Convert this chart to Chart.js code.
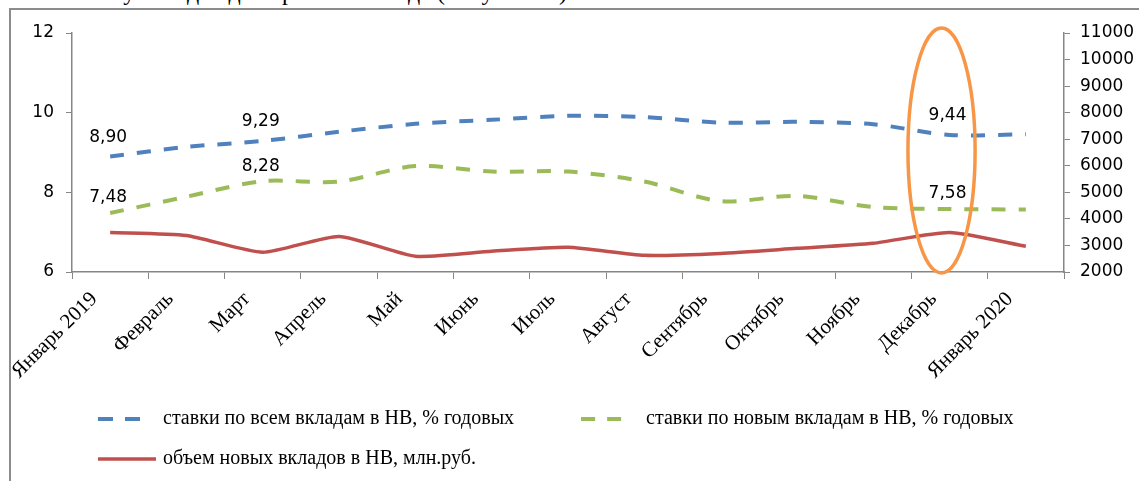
<!DOCTYPE html>
<html lang="ru">
<head>
<meta charset="utf-8">
<title>Ставки и объем вкладов в НВ</title>
<script src="https://cdn.jsdelivr.net/npm/chart.js@4/dist/chart.umd.min.js"></script>
<style>
    html, body { margin: 0; padding: 0; background: #fff; overflow: hidden; }
    body { width: 1139px; height: 481px; position: relative; }
    .doc-line {
        position: absolute; left: 112px; top: -20px;
        font: 24px "Liberation Serif", serif; line-height: 24px;
        white-space: nowrap; color: #000;
    }
    .frame {
        position: absolute; left: 9px; top: 8px;
        width: 1300px; height: 600px;
        border: 2px solid #8c8c8c; box-sizing: border-box;
    }
    #depositChart { position: absolute; left: 10px; top: 9px; }
</style>
</head>
<body>
<div class="doc-line">ку вкладов до апреля 2020 года (Рисунок 11).</div>
<div class="frame"></div>
<canvas id="depositChart" width="1129" height="472"></canvas>

<script>
// months on the x axis
const months = ["Январь 2019", "Февраль", "Март", "Апрель", "Май", "Июнь", "Июль",
    "Август", "Сентябрь", "Октябрь", "Ноябрь", "Декабрь", "Январь 2020"];

// rates, % per year (left axis)
const allDepositRates = [8.90, 9.14, 9.29, 9.52, 9.72, 9.82, 9.92, 9.89, 9.75, 9.77, 9.71, 9.44, 9.46];
const newDepositRates = [7.48, 7.89, 8.28, 8.27, 8.66, 8.52, 8.52, 8.27, 7.78, 7.91, 7.63, 7.58, 7.57];

// volume of new deposits, mln rub (right axis)
const newDepositVolume = [3490, 3375, 2745, 3340, 2595, 2780, 2930, 2630, 2700, 2890, 3080, 3490, 2970];

const seriesNames = [
    "ставки по всем вкладам в НВ, % годовых",
    "ставки по новым вкладам в НВ, % годовых",
    "объем новых вкладов в НВ, млн.руб."
];

// which months get a value label, and which one is circled
const labeledPoints = [0, 2, 11];
const circledMonth = 11;

const axisGray = "#868686";
const tickFont = { family: "'DejaVu Sans', sans-serif", size: 17 };
const monthFont = { family: "'Liberation Serif', serif", size: 21 };
const legendFont = { family: "'Liberation Serif', serif", size: 20 };

// small line pictures for the legend (two dashes for the rates)
function legendLine(color, width, dash) {
    const c = document.createElement("canvas");
    c.width = 58;
    c.height = 6;
    const g = c.getContext("2d");
    g.strokeStyle = color;
    g.lineWidth = width;
    g.setLineDash(dash);
    g.beginPath();
    g.moveTo(0, 3);
    g.lineTo(58, 3);
    g.stroke();
    return c;
}

const valueLabels = {
    id: "valueLabels",
    afterDatasetsDraw(chart) {
        const ctx = chart.ctx;
        ctx.save();
        ctx.font = "17px 'DejaVu Sans', sans-serif";
        ctx.fillStyle = "#000";
        ctx.textAlign = "center";
        ctx.textBaseline = "middle";
        [0, 1].forEach((di) => {
            const meta = chart.getDatasetMeta(di);
            const values = chart.data.datasets[di].data;
            const lift = di === 0 ? 19 : 15;
            labeledPoints.forEach((i) => {
                const pt = meta.data[i];
                const text = values[i].toFixed(2).replace(".", ",");
                ctx.fillText(text, pt.x - 2, pt.y - lift);
            });
        });
        ctx.restore();
    }
};

const monthCircle = {
    id: "monthCircle",
    afterDatasetsDraw(chart) {
        const x = chart.scales.x;
        const area = chart.chartArea;
        const step = x.getPixelForValue(1) - x.getPixelForValue(0);
        const ctx = chart.ctx;
        ctx.save();
        ctx.strokeStyle = "#F79646";
        ctx.lineWidth = 3.5;
        ctx.beginPath();
        ctx.ellipse(x.getPixelForValue(circledMonth) - 8, (area.top + area.bottom) / 2 - 2,
            step * 0.44, (area.bottom - area.top) / 2 + 3, 0, 0, Math.PI * 2);
        ctx.stroke();
        ctx.restore();
    }
};

// the legend starts under the plot, not at the canvas edge
const legendShift = {
    id: "legendShift",
    beforeDraw(chart) {
        chart.legend.left = 71;
    }
};

const blueLine = legendLine("#4F81BD", 4, [15, 12, 15, 100]);
const greenLine = legendLine("#9BBB59", 4, [14, 12, 14, 100]);
const redLine = legendLine("#C0504D", 3.5, []);

new Chart(document.getElementById("depositChart"), {
    type: "line",
    data: {
        labels: months,
        datasets: [{
            label: seriesNames[0],
            data: allDepositRates,
            yAxisID: "y",
            borderColor: "#4F81BD",
            backgroundColor: "#4F81BD",
            borderWidth: 4,
            borderDash: [14, 13],
            tension: 0.3,
            pointRadius: 0,
            pointStyle: blueLine
        }, {
            label: seriesNames[1],
            data: newDepositRates,
            yAxisID: "y",
            borderColor: "#9BBB59",
            backgroundColor: "#9BBB59",
            borderWidth: 4,
            borderDash: [14, 13],
            tension: 0.3,
            pointRadius: 0,
            pointStyle: greenLine
        }, {
            label: seriesNames[2],
            data: newDepositVolume,
            yAxisID: "y1",
            borderColor: "#C0504D",
            backgroundColor: "#C0504D",
            borderWidth: 3.5,
            tension: 0.2,
            pointRadius: 0,
            pointStyle: redLine
        }]
    },
    options: {
        responsive: false,
        devicePixelRatio: 1,
        animation: false,
        layout: { padding: { left: 0, right: 0, top: 24, bottom: 2 } },
        plugins: {
            tooltip: { enabled: false },
            legend: {
                position: "bottom",
                align: "start",
                labels: {
                    usePointStyle: true,
                    pointStyleWidth: 52,
                    color: "#000",
                    font: legendFont,
                    padding: 20,
                    generateLabels(chart) {
                        const items = Chart.defaults.plugins.legend.labels.generateLabels(chart);
                        // wider gap after the first item, like the original
                        items[0].text += "          ";
                        return items;
                    }
                }
            }
        },
        scales: {
            x: {
                offset: true,
                grid: { offset: true, drawOnChartArea: false, tickLength: 7, color: axisGray },
                border: { color: axisGray, width: 1.5 },
                ticks: {
                    autoSkip: false,
                    minRotation: 45,
                    maxRotation: 45,
                    padding: 8,
                    labelOffset: -16,
                    color: "#000",
                    font: monthFont
                },
                afterFit(scale) { scale.height = 117; }
            },
            y: {
                position: "left",
                min: 6,
                max: 12,
                grid: { drawOnChartArea: false, tickLength: 6, color: axisGray },
                border: { color: axisGray, width: 1.5 },
                ticks: { stepSize: 2, padding: 12, color: "#000", font: tickFont },
                afterFit(scale) { scale.width = 62; }
            },
            y1: {
                position: "right",
                min: 2000,
                max: 11000,
                grid: { drawOnChartArea: false, tickLength: 6, color: axisGray },
                border: { color: axisGray, width: 1.5 },
                ticks: {
                    stepSize: 1000,
                    padding: 10,
                    color: "#000",
                    font: tickFont,
                    callback: (v) => String(v)
                },
                afterFit(scale) { scale.width = 75; }
            }
        }
    },
    plugins: [valueLabels, monthCircle, legendShift]
});
</script>
</body>
</html>
